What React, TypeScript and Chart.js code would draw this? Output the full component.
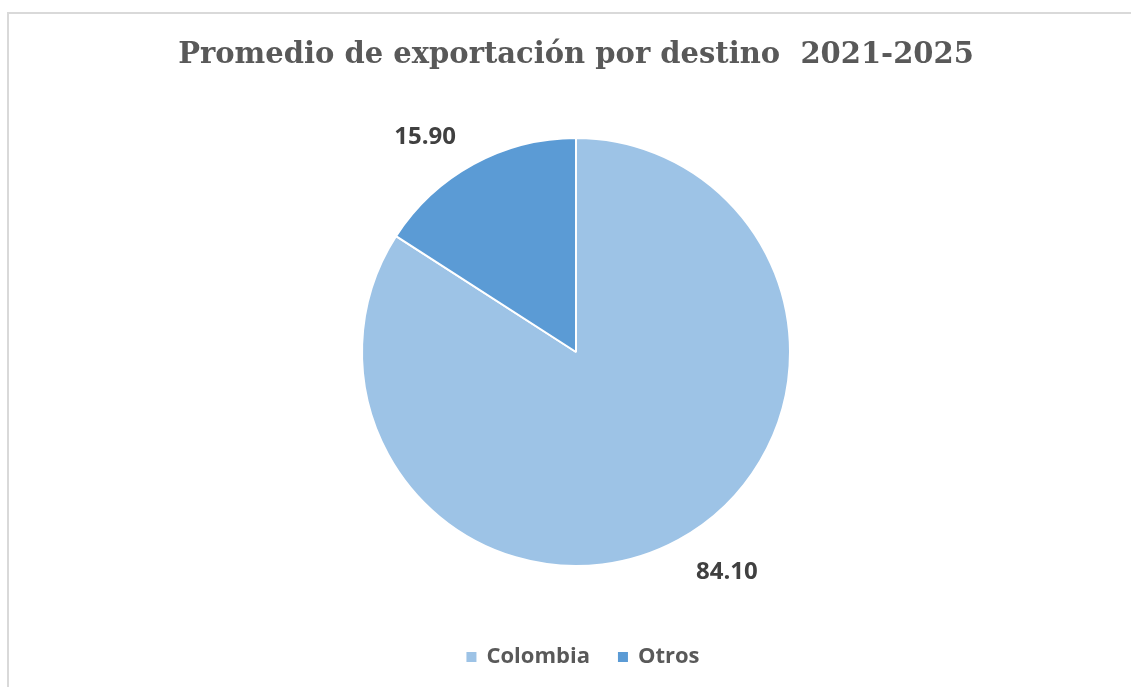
import React, { useEffect, useRef } from "react";
import { Chart, registerables } from "chart.js";

Chart.register(...registerables);

const categories: string[] = ["Colombia", "Otros"];
const values: number[] = [84.1, 15.9];
const valueLabels: string[] = ["84.10", "15.90"];
const sliceColors: string[] = ["#9DC3E6", "#5B9BD5"];
const titleText = "Promedio de exportación por destino  2021-2025";

const overlayPlugin = {
  id: "overlay",
  afterDraw(chart: any) {
    const ctx = chart.ctx as CanvasRenderingContext2D;
    ctx.save();
    // title
    ctx.fillStyle = "#595959";
    ctx.font = "bold 29px 'DejaVu Serif'";
    ctx.textAlign = "center";
    ctx.textBaseline = "middle";
    ctx.fillText(titleText, 576, 55);

    // data labels
    const meta = chart.getDatasetMeta(0);
    ctx.font = "bold 24px 'Open Sans'";
    ctx.fillStyle = "#404040";
    meta.data.forEach((arc: any, i: number) => {
      const p = arc.getProps(["x", "y", "startAngle", "endAngle", "outerRadius"], true);
      const mid = (p.startAngle + p.endAngle) / 2;
      const d = p.outerRadius + 20;
      const side = Math.cos(mid) < 0 ? -1 : 1;
      const ax = p.x + Math.cos(mid) * d + side * 8;
      const ay = p.y + Math.sin(mid) * d + 3;
      ctx.textAlign = side < 0 ? "right" : "left";
      ctx.textBaseline = Math.sin(mid) < 0 ? "bottom" : "top";
      ctx.fillText(valueLabels[i], ax, ay);
    });

    // legend
    ctx.font = "bold 22px 'Open Sans'";
    ctx.textAlign = "left";
    ctx.textBaseline = "middle";
    const box = 10;
    const gapBox = 10;
    const gapItem = 28;
    const widths = categories.map((c) => box + gapBox + ctx.measureText(c).width);
    const total = widths.reduce((a, b) => a + b, 0) + gapItem * (categories.length - 1);
    let x = 583 - total / 2;
    const ly = 657;
    categories.forEach((c, i) => {
      ctx.fillStyle = sliceColors[i];
      ctx.fillRect(x, ly - box / 2, box, box);
      ctx.fillStyle = "#595959";
      ctx.fillText(c, x + box + gapBox, ly);
      x += widths[i] + gapItem;
    });
    ctx.restore();
  },
};

export default function App() {
  const ref = useRef<HTMLCanvasElement | null>(null);
  useEffect(() => {
    if (!ref.current) return;
    const chart = new Chart(ref.current, {
      type: "pie",
      data: {
        labels: categories,
        datasets: [
          {
            data: values,
            backgroundColor: sliceColors,
            borderColor: "#FFFFFF",
            borderWidth: 2,
          },
        ],
      },
      options: {
        animation: false,
        responsive: false,
        devicePixelRatio: 1,
        layout: { padding: { top: 137, bottom: 687 - 567, left: 300, right: 1131 - 852 } },
        plugins: {
          legend: { display: false },
          title: { display: false },
          tooltip: { enabled: false },
        },
      },
      plugins: [overlayPlugin],
    });
    return () => chart.destroy();
  }, []);
  return (
    <div style={{ position: "fixed", left: 0, top: 0, width: 1131, height: 687, background: "#fff" }}>
      <canvas ref={ref} width={1131} height={687} style={{ position: "absolute", left: 0, top: 0 }} />
      <div
        style={{
          position: "absolute",
          left: 7,
          top: 12,
          right: 0,
          bottom: 0,
          borderTop: "2px solid #D9D9D9",
          borderLeft: "2px solid #D9D9D9",
          pointerEvents: "none",
        }}
      />
    </div>
  );
}
